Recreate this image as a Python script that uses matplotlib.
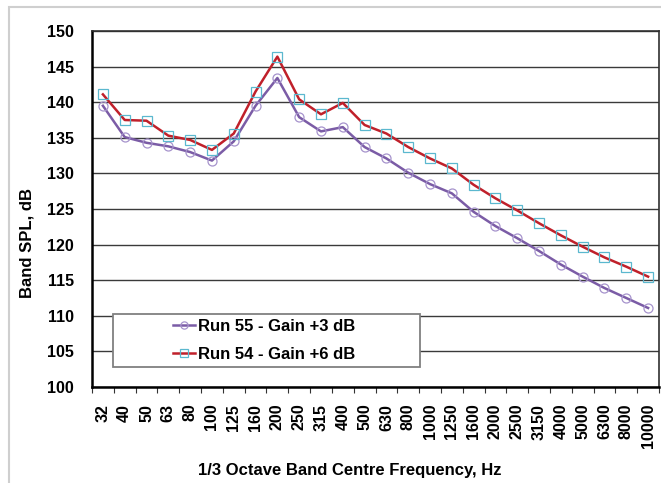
import numpy as np
import matplotlib
matplotlib.use("Agg")
import matplotlib.pyplot as plt
from matplotlib.patches import Rectangle

plt.rcParams["font.family"] = ["Liberation Sans", "DejaVu Sans"]
plt.rcParams["font.weight"] = "bold"

freqs = ["32", "40", "50", "63", "80", "100", "125", "160", "200", "250", "315",
         "400", "500", "630", "800", "1000", "1250", "1600", "2000", "2500",
         "3150", "4000", "5000", "6300", "8000", "10000"]

run55 = [139.5, 135.1, 134.3, 133.8, 133.0, 131.8, 134.5, 139.5, 143.4, 137.9, 135.9,
         136.5, 133.7, 132.1, 130.1, 128.5, 127.2, 124.6, 122.6, 120.9,
         119.1, 117.2, 115.5, 113.9, 112.5, 111.1]
run54 = [141.1, 137.5, 137.4, 135.3, 134.7, 133.3, 135.6, 141.5, 146.4, 140.4, 138.3,
         139.9, 136.8, 135.6, 133.7, 132.1, 130.7, 128.4, 126.5, 124.8,
         123.0, 121.3, 119.7, 118.2, 116.9, 115.5]

W, H = 661, 483
fig = plt.figure(figsize=(W / 100, H / 100), dpi=100)
ax = fig.add_axes([92 / W, 1 - 387 / H, (659 - 92) / W, (387 - 31) / H])

x = np.arange(len(freqs))
ax.plot(x, run55, color="#7B5CA6", lw=1.8, marker="o", ms=6.5, mfc="none",
        mec="#A693CC", mew=0.9, label="Run 55 - Gain +3 dB", zorder=3)
ax.plot(x, run54, color="#C0202A", lw=1.8, marker="s", ms=6.5, mfc="none",
        mec="#5BB8CF", mew=0.9, label="Run 54 - Gain +6 dB", zorder=4)

ax.set_xlim(-0.5, len(freqs) - 0.5)
ax.set_ylim(100, 150)
ax.set_yticks(np.arange(100, 151, 5))
ax.yaxis.grid(True, color="#3a3a3a", lw=1.0)
ax.set_axisbelow(True)
ax.tick_params(axis="y", length=0, pad=13, labelsize=11.5)

ax.set_xticks(x)
ax.set_xticklabels(freqs, rotation=90, fontsize=11.5)
ax.set_xticks(np.arange(-0.5, len(freqs), 1), minor=True)
ax.tick_params(axis="x", which="major", length=0, pad=12)
ax.tick_params(axis="x", which="minor", length=4, width=0.8, color="#333333")

for s in ["left", "bottom"]:
    ax.spines[s].set_linewidth(1.8)
    ax.spines[s].set_color("black")
for s in ["top", "right"]:
    ax.spines[s].set_linewidth(1.2)
    ax.spines[s].set_color("#303030")

# legend box drawn separately, legend entries centred inside it
bx0, bx1, by0, by1 = 113, 420, 314, 367
box = Rectangle((bx0 / W, 1 - by1 / H), (bx1 - bx0) / W, (by1 - by0) / H,
                transform=fig.transFigure, facecolor="white", edgecolor="#808080",
                lw=1.3, zorder=5)
fig.patches.append(box)
leg = fig.legend(*ax.get_legend_handles_labels(), loc="center",
                 bbox_to_anchor=((bx0 + bx1) / 2 / W - 2 / W, 1 - (by0 + by1) / 2 / H),
                 fontsize=12, frameon=False, handlelength=1.3, handletextpad=0.2,
                 labelspacing=0.75, markerscale=0.8, borderpad=0)
leg.set_zorder(6)
for t in leg.get_texts():
    t.set_fontweight("bold")

fig.text(27 / W, 1 - 243 / H, "Band SPL, dB", rotation=90, ha="center", va="center",
         fontsize=12, fontweight="bold")
fig.text(350 / W, 1 - 471 / H, "1/3 Octave Band Centre Frequency, Hz", ha="center",
         va="center", fontsize=12, fontweight="bold")

fig.patches.append(Rectangle((9 / W, -0.05), 1.1, 1 - 7 / H + 0.05,
                             transform=fig.transFigure, fill=False,
                             edgecolor="#cfcfcf", lw=1.5))

fig.savefig("out.png", dpi=100)
